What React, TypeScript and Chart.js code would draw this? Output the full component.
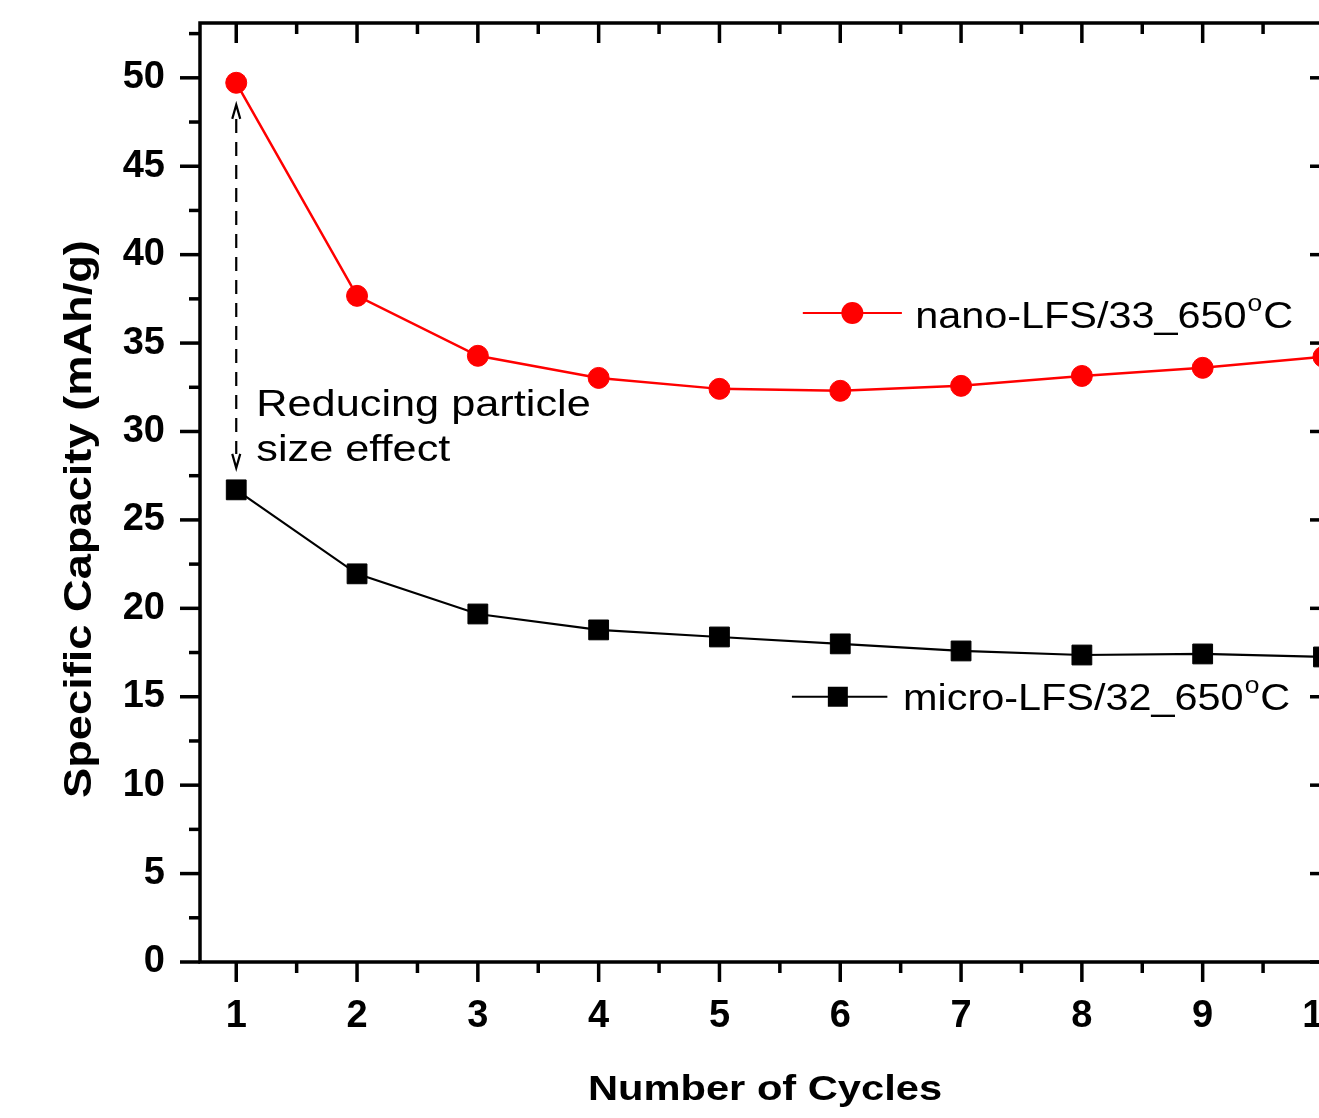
import React, { useEffect, useRef } from "react";
import { Chart, registerables } from "chart.js";

Chart.register(...registerables);

// ---- data ----
const cycles = [1, 2, 3, 4, 5, 6, 7, 8, 9, 10];
const nanoCapacity = [49.72, 37.67, 34.28, 33.03, 32.41, 32.3, 32.58, 33.14, 33.6, 34.22];
const microCapacity = [26.7, 21.95, 19.68, 18.78, 18.38, 17.99, 17.59, 17.36, 17.42, 17.25];
const xTickValues = [1, 2, 3, 4, 5, 6, 7, 8, 9, 10];
const xMinorTicks = [1.5, 2.5, 3.5, 4.5, 5.5, 6.5, 7.5, 8.5, 9.5];
const yTickValues = [0, 5, 10, 15, 20, 25, 30, 35, 40, 45, 50];
const yMinorTicks = [2.5, 7.5, 12.5, 17.5, 22.5, 27.5, 32.5, 37.5, 42.5, 47.5, 52.5];
const seriesNames = ["nano-LFS/33_650", "micro-LFS/32_650"];
const degreeSup = "o";
const degreeUnit = "C";
const xTitle = "Number of Cycles";
const yTitle = "Specific Capacity (mAh/g)";
const noteLines = ["Reducing particle", "size effect"];
// annotation arrow (data values)
const arrowX = 1;
const arrowTop = 48.47;
const arrowBottom = 27.94;

const FAMILY = 'Arial, "Liberation Sans", sans-serif';
const RED = "#ff0000";
const BLACK = "#000000";

function stretchedText(
  ctx: CanvasRenderingContext2D,
  text: string,
  x: number,
  y: number,
  font: string,
  sx: number,
  align: CanvasTextAlign = "left"
) {
  ctx.save();
  ctx.font = font;
  ctx.translate(x, y);
  ctx.scale(sx, 1);
  ctx.textAlign = align;
  ctx.textBaseline = "alphabetic";
  ctx.fillText(text, 0, 0);
  ctx.restore();
}

function labelWithDegree(
  ctx: CanvasRenderingContext2D,
  base: string,
  x: number,
  y: number,
  size: number,
  sx: number
) {
  ctx.save();
  ctx.fillStyle = "#000";
  ctx.font = `${size}px ${FAMILY}`;
  const w1 = ctx.measureText(base).width * sx;
  stretchedText(ctx, base, x, y, `${size}px ${FAMILY}`, sx);
  const supSize = Math.round(size * 0.63);
  ctx.font = `${supSize}px ${FAMILY}`;
  const w2 = ctx.measureText(degreeSup).width * sx;
  stretchedText(ctx, degreeSup, x + w1 + 1, y - size * 0.46, `${supSize}px ${FAMILY}`, sx);
  stretchedText(ctx, degreeUnit, x + w1 + w2 + 2, y, `${size}px ${FAMILY}`, sx);
  ctx.restore();
}

const framePlugin = {
  id: "frameTicks",
  afterDatasetsDraw(chart: any) {
    const { ctx, chartArea: a, scales } = chart;
    const xs = scales.x;
    const ys = scales.y;
    const MAJ = 20;
    const MIN = 11;
    ctx.save();
    ctx.strokeStyle = BLACK;
    ctx.lineWidth = 3.5;
    ctx.lineCap = "butt";
    ctx.strokeRect(a.left, a.top, a.right - a.left, a.bottom - a.top);
    const seg = (x1: number, y1: number, x2: number, y2: number) => {
      ctx.beginPath();
      ctx.moveTo(x1, y1);
      ctx.lineTo(x2, y2);
      ctx.stroke();
    };
    xTickValues.forEach((v) => {
      const p = xs.getPixelForValue(v);
      seg(p, a.bottom, p, a.bottom + MAJ);
      seg(p, a.top, p, a.top + MAJ);
    });
    xMinorTicks.forEach((v) => {
      const p = xs.getPixelForValue(v);
      seg(p, a.bottom, p, a.bottom + MIN);
      seg(p, a.top, p, a.top + MIN);
    });
    yTickValues.forEach((v) => {
      const p = ys.getPixelForValue(v);
      seg(a.left, p, a.left - MAJ, p);
      seg(a.right, p, a.right - MAJ, p);
    });
    yMinorTicks.forEach((v) => {
      const p = ys.getPixelForValue(v);
      seg(a.left, p, a.left - MIN, p);
      seg(a.right, p, a.right - MIN, p);
    });
    ctx.restore();
  },
  afterDraw(chart: any) {
    const { ctx, chartArea: a, scales } = chart;
    const xs = scales.x;
    const ys = scales.y;
    ctx.save();
    ctx.fillStyle = BLACK;

    // axis titles
    stretchedText(ctx, xTitle, (a.left + a.right) / 2, 1100, `bold 35px ${FAMILY}`, 1.19, "center");
    ctx.save();
    ctx.translate(91, 519);
    ctx.rotate(-Math.PI / 2);
    stretchedText(ctx, yTitle, 0, 0, `bold 38px ${FAMILY}`, 1.19, "center");
    ctx.restore();

    // dashed double arrow
    const ax = xs.getPixelForValue(arrowX);
    const at = ys.getPixelForValue(arrowTop);
    const ab = ys.getPixelForValue(arrowBottom);
    ctx.strokeStyle = BLACK;
    ctx.lineWidth = 2.2;
    ctx.setLineDash([14, 9]);
    ctx.beginPath();
    ctx.moveTo(ax, at + 14);
    ctx.lineTo(ax, ab - 14);
    ctx.stroke();
    ctx.setLineDash([]);
    ctx.beginPath();
    ctx.moveTo(ax - 4, at + 14);
    ctx.lineTo(ax, at);
    ctx.lineTo(ax + 4, at + 14);
    ctx.moveTo(ax - 4, ab - 14);
    ctx.lineTo(ax, ab);
    ctx.lineTo(ax + 4, ab - 14);
    ctx.stroke();

    // annotation text
    const tx = ax + 20;
    stretchedText(ctx, noteLines[0], tx, ys.getPixelForValue(30.9), `37px ${FAMILY}`, 1.17);
    stretchedText(ctx, noteLines[1], tx, ys.getPixelForValue(28.35), `37px ${FAMILY}`, 1.17);

    // legends
    const legendRows = [
      { name: seriesNames[0], color: RED, style: "circle", yv: 36.7, x0: 5.69, x1: 6.51, sym: 6.1, tx: 6.62, ty: 35.86 },
      { name: seriesNames[1], color: BLACK, style: "rect", yv: 15.0, x0: 5.6, x1: 6.39, sym: 5.98, tx: 6.52, ty: 14.25 },
    ];
    legendRows.forEach((r) => {
      const py = ys.getPixelForValue(r.yv);
      ctx.strokeStyle = r.color;
      ctx.fillStyle = r.color;
      ctx.lineWidth = 2.2;
      ctx.beginPath();
      ctx.moveTo(xs.getPixelForValue(r.x0), py);
      ctx.lineTo(xs.getPixelForValue(r.x1), py);
      ctx.stroke();
      const sx = xs.getPixelForValue(r.sym);
      ctx.beginPath();
      if (r.style === "circle") {
        ctx.arc(sx, py, 11, 0, Math.PI * 2);
      } else {
        ctx.rect(sx - 10, py - 10, 20, 20);
      }
      ctx.fill();
      labelWithDegree(ctx, r.name, xs.getPixelForValue(r.tx), ys.getPixelForValue(r.ty), 36, 1.15);
    });
    ctx.restore();
  },
};

export default function App() {
  const ref = useRef<HTMLCanvasElement | null>(null);
  useEffect(() => {
    if (!ref.current) return;
    const tickFont = { family: FAMILY, size: 38, weight: "bold" as const };
    const chart = new Chart(ref.current, {
      type: "line",
      data: {
        datasets: [
          {
            label: seriesNames[0],
            data: cycles.map((c, i) => ({ x: c, y: nanoCapacity[i] })),
            borderColor: RED,
            backgroundColor: RED,
            borderWidth: 2.5,
            pointStyle: "circle",
            pointRadius: 10.5,
            pointBorderWidth: 1,
            pointBackgroundColor: RED,
            pointBorderColor: RED,
            clip: false as any,
          },
          {
            label: seriesNames[1],
            data: cycles.map((c, i) => ({ x: c, y: microCapacity[i] })),
            borderColor: BLACK,
            backgroundColor: BLACK,
            borderWidth: 2.2,
            pointStyle: "rect",
            pointRadius: 14,
            pointBorderWidth: 1,
            pointBackgroundColor: BLACK,
            pointBorderColor: BLACK,
            clip: false as any,
          },
        ],
      },
      options: {
        animation: false,
        responsive: false,
        maintainAspectRatio: false,
        layout: { padding: { left: 0, top: 23, right: 30, bottom: 0 } },
        plugins: {
          legend: { display: false },
          tooltip: { enabled: false },
          title: { display: false },
        },
        scales: {
          x: {
            type: "linear",
            min: 0.7,
            max: 10.054,
            afterBuildTicks: (s: any) => {
              s.ticks = xTickValues.map((v) => ({ value: v }));
            },
            afterFit: (s: any) => {
              s.height = 156;
              s.paddingLeft = 0;
              s.paddingRight = 0;
            },
            grid: { drawOnChartArea: false, color: "rgba(0,0,0,0)", tickLength: 20 },
            border: { display: false },
            ticks: {
              font: tickFont,
              color: BLACK,
              padding: 12,
              maxRotation: 0,
              autoSkip: false,
              callback: (v: any) => String(v),
            },
          },
          y: {
            type: "linear",
            min: 0,
            max: 53.1,
            afterBuildTicks: (s: any) => {
              s.ticks = yTickValues.map((v) => ({ value: v }));
            },
            afterFit: (s: any) => {
              s.width = 200;
              s.paddingTop = 0;
              s.paddingBottom = 0;
            },
            grid: { drawOnChartArea: false, color: "rgba(0,0,0,0)", tickLength: 20 },
            border: { display: false },
            ticks: {
              font: tickFont,
              color: BLACK,
              padding: 15,
              autoSkip: false,
              callback: (v: any) => String(v),
            },
          },
        },
      },
      plugins: [framePlugin],
    });
    return () => chart.destroy();
  }, []);

  return (
    <div
      style={{
        position: "fixed",
        left: 0,
        top: 0,
        width: 1319,
        height: 1118,
        overflow: "hidden",
        background: "#fff",
      }}
    >
      <canvas ref={ref} width={1360} height={1118} style={{ width: 1360, height: 1118, display: "block" }} />
    </div>
  );
}
